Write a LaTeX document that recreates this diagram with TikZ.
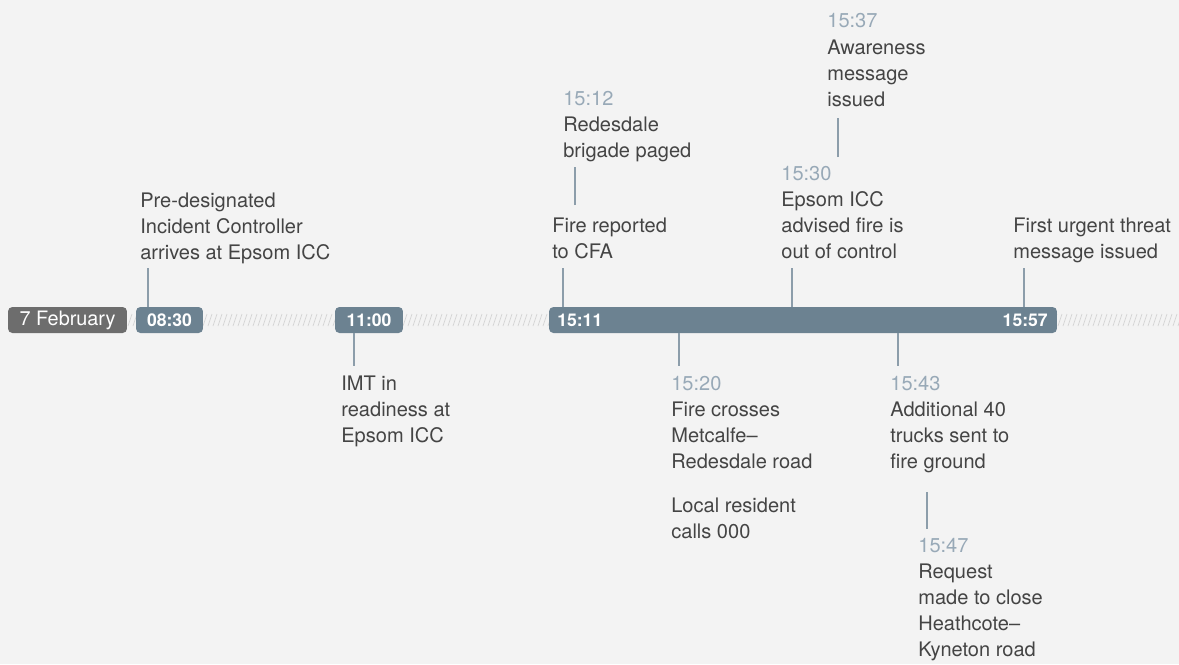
\documentclass[tikz,border=0pt]{standalone}
\usepackage{fontspec}
\setmainfont{TeX Gyre Heros}
\definecolor{bgc}{HTML}{F3F3F3}
\definecolor{datec}{HTML}{6D6D6D}
\definecolor{barc}{HTML}{6C8291}
\definecolor{timec}{HTML}{98A9B7}
\definecolor{connc}{HTML}{8C9DAA}
\definecolor{txtc}{HTML}{444444}
\definecolor{hatchc}{HTML}{D4D4D4}
\newcommand{\tlfont}{\fontsize{11.4}{14.8}\selectfont}
\newcommand{\tm}[1]{{\color{timec}#1}}
\begin{document}
\begin{tikzpicture}[x=0.02cm,y=-0.02cm,
  txt/.style={anchor=base west,align=left,inner sep=0pt,text=txtc,font=\tlfont},
  datebox/.style={fill=datec,rounded corners=2.5pt,text=white,inner sep=0pt,
    minimum height=0.52cm,font=\fontsize{11.3}{13}\selectfont},
  timebox/.style={fill=barc,rounded corners=2.5pt,text=white,inner sep=0pt,
    minimum height=0.52cm,font=\fontsize{10}{12}\selectfont\bfseries},
  barlabel/.style={text=white,inner sep=0pt,font=\fontsize{10}{12}\selectfont\bfseries},
  conn/.style={draw=connc,line width=0.6pt},
  hatch/.style={draw=hatchc,line width=0.4pt}]
\fill[bgc] (0,0) rectangle (1179,664);
\useasboundingbox (0,0) rectangle (1179,664);
% hatched time line
\foreach \x in {128,133,...,1178} \draw[hatch] (\x,326) -- ++(4,-12);
% boxes on the line
\node[datebox,minimum width=2.38cm] (feb) at (67.5,320) {7 February};
\node[timebox,minimum width=1.34cm] (b0830) at (169.5,320) {08:30};
\node[timebox,minimum width=1.36cm] (b1100) at (369,320) {11:00};
\node[timebox,minimum width=10.16cm] (bar) at (803,320) {};
\node[barlabel,anchor=west] (b1511) at (557,320) {15:11};
\node[barlabel,anchor=east] (b1557) at (1048,320) {15:57};
% events above (placed at the baseline of the last line)
\node[txt] (pre) at (140,259) {Pre-designated\\Incident Controller\\arrives at Epsom ICC};
\node[txt] (fire) at (552,258) {Fire reported\\to CFA};
\node[txt] (brig) at (563,157) {\tm{15:12}\\Redesdale\\brigade paged};
\node[txt] (epsom) at (781,258) {\tm{15:30}\\Epsom ICC\\advised fire is\\out of control};
\node[txt] (aware) at (827,106) {\tm{15:37}\\Awareness\\message\\issued};
\node[txt] (first) at (1013,258) {First urgent threat\\message issued};
% events below
\node[txt] (imt) at (341,442) {IMT in\\readiness at\\Epsom ICC};
\node[txt] (cross) at (671,538) {\tm{15:20}\\Fire crosses\\Metcalfe–\\Redesdale road\\[10pt]Local resident\\calls 000};
\node[txt] (trucks) at (890,468) {\tm{15:43}\\Additional 40\\trucks sent to\\fire ground};
\node[txt] (close) at (918,656) {\tm{15:47}\\Request\\made to close\\Heathcote–\\Kyneton road};
% connectors
\coordinate (u0830) at (148,268);
\coordinate (u1511) at (563,268);
\coordinate (u1530) at (792,268);
\coordinate (u1557) at (1024,268);
\coordinate (d1100) at (354,366);
\coordinate (d1520) at (679,366);
\coordinate (d1543) at (898,366);
\draw[conn] (b0830.north -| u0830) -- (u0830);
\draw[conn] (bar.north -| u1511) -- (u1511);
\draw[conn] (bar.north -| u1530) -- (u1530);
\draw[conn] (bar.north -| u1557) -- (u1557);
\draw[conn] (b1100.south -| d1100) -- (d1100);
\draw[conn] (bar.south -| d1520) -- (d1520);
\draw[conn] (bar.south -| d1543) -- (d1543);
\coordinate (l1512a) at (575,205);
\coordinate (l1512b) at (575,167);
\coordinate (l1537a) at (838,157);
\coordinate (l1537b) at (838,118);
\coordinate (l1547a) at (927,492);
\coordinate (l1547b) at (927,529);
\draw[conn] (l1512a) -- (l1512b);
\draw[conn] (l1537a) -- (l1537b);
\draw[conn] (l1547a) -- (l1547b);
\end{tikzpicture}
\end{document}
